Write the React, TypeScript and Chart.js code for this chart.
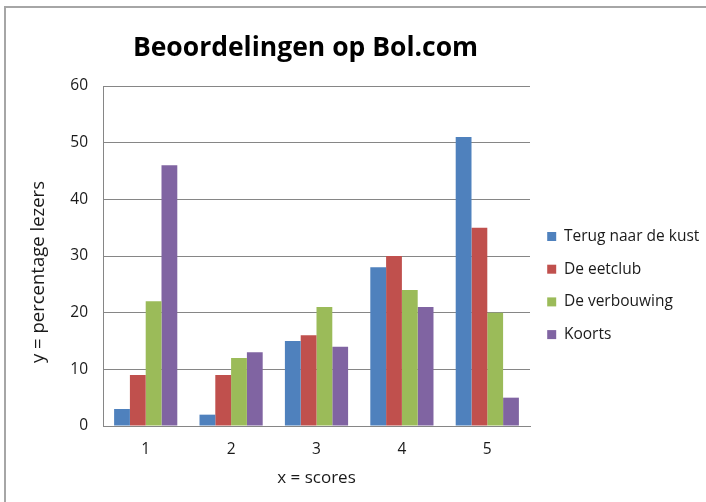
import React, { useEffect, useRef } from "react";
import { Chart, registerables } from "chart.js";

Chart.register(...registerables);

const categories = ["1", "2", "3", "4", "5"];
const seriesNames = ["Terug naar de kust", "De eetclub", "De verbouwing", "Koorts"];
const terugNaarDeKust = [3, 2, 15, 28, 51];
const deEetclub = [9, 9, 16, 30, 35];
const deVerbouwing = [22, 12, 21, 24, 20];
const koorts = [46, 13, 14, 21, 5];
const seriesColors = ["#4F81BD", "#C0504D", "#9BBB59", "#8064A2"];
const yTicks = [0, 10, 20, 30, 40, 50, 60];

const FONT = "'Open Sans', Lato, sans-serif";
const LEGEND_W = 176;

const fixPlugin = {
  id: "fixPlugin",
  beforeLayout(chart: any) {
    const lg = chart.legend;
    if (lg && !lg.__patched) {
      const f = lg.fit.bind(lg);
      lg.fit = function () {
        f();
        this.width = LEGEND_W;
      };
      lg.__patched = true;
    }
  },
  afterLayout(chart: any) {
    const t = chart.titleBlock;
    if (t) {
      t.left = 81;
      t.right = 530;
    }
    const s = chart.scales && chart.scales.y;
    if (s && !s.__patched) {
      const orig = s.drawTitle.bind(s);
      s.drawTitle = function () {
        const ctx = this.ctx;
        ctx.save();
        ctx.translate(0, 16);
        orig();
        ctx.restore();
      };
      s.__patched = true;
    }
  },
};

export default function App() {
  const ref = useRef<HTMLCanvasElement | null>(null);
  useEffect(() => {
    if (!ref.current) return;
    const values = [terugNaarDeKust, deEetclub, deVerbouwing, koorts];
    const chart = new Chart(ref.current, {
      type: "bar",
      data: {
        labels: categories,
        datasets: seriesNames.map((name, i) => ({
          label: name,
          data: values[i],
          backgroundColor: seriesColors[i],
          borderWidth: 0,
          categoryPercentage: 0.74,
          barPercentage: 1.0,
        })),
      },
      options: {
        animation: false,
        responsive: false,
        maintainAspectRatio: false,
        layout: { padding: { left: 10, top: 8, right: 0, bottom: 8 } },
        plugins: {
          title: {
            display: true,
            text: "Beoordelingen op Bol.com",
            color: "#000000",
            font: { family: FONT, size: 26.5, weight: "bold", lineHeight: 1.2 },
            padding: { top: 24.6, bottom: 21.6 },
          },
          legend: {
            display: true,
            position: "right",
            fullSize: false,
            align: "center",
            title: { display: true, text: "", font: { size: 12, lineHeight: 1.2 }, padding: { top: 44.7, bottom: 0 } },
            labels: {
              boxWidth: 9,
              boxHeight: 9,
              padding: 17.2,
              color: "#1a1a1a",
              font: { family: FONT, size: 15.5, lineHeight: 1.2 },
            },
          },
          tooltip: { enabled: false },
        },
        scales: {
          x: {
            grid: { display: false, drawTicks: false },
            border: { display: true, color: "#868686", width: 1 },
            ticks: { color: "#1a1a1a", font: { family: FONT, size: 15.5, lineHeight: 1.2 }, padding: 14.7 },
            title: {
              display: true,
              text: "x = scores",
              color: "#1a1a1a",
              font: { family: FONT, size: 17, lineHeight: 1.2 },
              padding: { top: 0, bottom: 5.8 },
            },
            afterFit(scale: any) {
              scale.height = 68;
            },
          },
          y: {
            min: 0,
            max: 60,
            afterBuildTicks(scale: any) {
              scale.ticks = yTicks.map((v) => ({ value: v }));
            },
            grid: { display: true, color: "#868686", lineWidth: 1, drawTicks: false },
            border: { display: true, color: "#868686", width: 1 },
            ticks: { color: "#1a1a1a", font: { family: FONT, size: 15.5, lineHeight: 1.2 }, padding: 15 },
            title: {
              display: true,
              text: "y = percentage lezers",
              color: "#1a1a1a",
              font: { family: FONT, size: 18.5, lineHeight: 1.2 },
              padding: { top: 18, bottom: 0 },
            },
            afterFit(scale: any) {
              scale.width = 93;
            },
          },
        },
      },
      plugins: [fixPlugin],
    });
    return () => chart.destroy();
  }, []);

  return (
    <div style={{ position: "fixed", left: 0, top: 0, width: 706, height: 502, overflow: "hidden", background: "#ffffff" }}>
      <div
        style={{
          position: "absolute",
          left: 4,
          top: 6,
          width: 760,
          height: 560,
          border: "2px solid #a6a6a6",
          boxSizing: "border-box",
        }}
      />
      <canvas ref={ref} width={706} height={502} style={{ position: "absolute", left: 0, top: 0 }} />
    </div>
  );
}
